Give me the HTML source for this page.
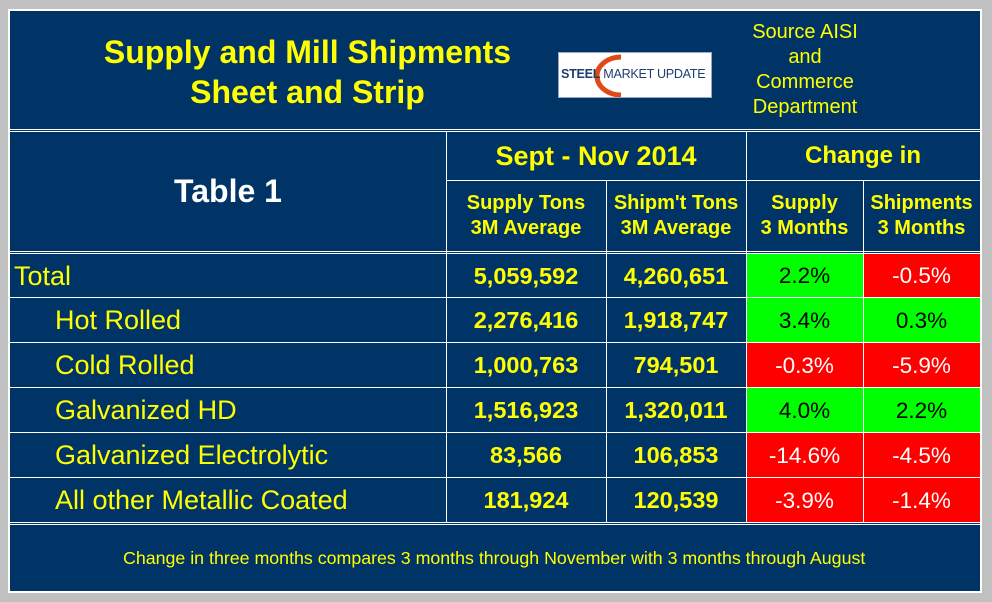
<!DOCTYPE html>
<html><head><meta charset="utf-8"><style>
body{margin:0;width:992px;height:602px;background:#c0c0c0;position:relative;overflow:hidden;font-family:"Liberation Sans",Arial,sans-serif}
.abs{position:absolute}
.nav{background:#003366}
.hl{position:absolute;height:1px;background:#fff}
.vl{position:absolute;width:1px;background:#fff}
.c{position:absolute;display:flex;align-items:center;justify-content:center;text-align:center}
.y{color:#ffff00}
.b{font-weight:bold}
</style></head><body>
<div class="abs" style="left:8px;top:9px;width:974px;height:584px;border:1px solid #fff;box-sizing:border-box"></div>
<div class="abs nav" style="left:10px;top:11px;width:970px;height:580px;outline:1px solid #fff"></div>
<div class="c y b" style="left:40px;top:28px;width:535px;height:88px;font-size:32px;line-height:40px;white-space:nowrap">Supply and Mill Shipments<br>Sheet and Strip</div>
<div class="abs" style="left:558px;top:52px;width:152px;height:44px;background:#fff;border:1px solid #9ab">
<svg width="152" height="44" style="position:absolute;left:0;top:0"><path d="M62 4 A24 19 0 1 0 62 42" stroke="#e04a1a" stroke-width="5" fill="none"/></svg>
<div class="abs" style="left:2px;top:14px;font-size:12.6px;white-space:nowrap;color:#1f3f70;letter-spacing:-0.3px"><b>STEEL</b> MARKET <span style="font-weight:normal">UPDATE</span></div></div>
<div class="c y" style="left:715px;top:20px;width:180px;height:100px;font-size:20px;line-height:25px">Source AISI<br>and<br>Commerce<br>Department</div>
<div class="hl" style="left:10px;top:129px;width:970px"></div>
<div class="hl" style="left:10px;top:131px;width:970px"></div>
<div class="c b" style="left:10px;top:132px;width:436px;height:119px;font-size:32px;color:#fff">Table 1</div>
<div class="c y b" style="left:446px;top:132px;width:300px;height:48px;font-size:27px">Sept - Nov 2014</div>
<div class="c y b" style="left:746px;top:132px;width:234px;height:48px;font-size:24px">Change in</div>
<div class="hl" style="left:446px;top:180px;width:534px"></div>
<div class="c y b" style="left:446px;top:181px;width:160px;height:70px;font-size:20px;line-height:25px;white-space:nowrap">Supply Tons<br>3M Average</div>
<div class="c y b" style="left:606px;top:181px;width:140px;height:70px;font-size:20px;line-height:25px;white-space:nowrap">Shipm't Tons<br>3M Average</div>
<div class="c y b" style="left:746px;top:181px;width:117px;height:70px;font-size:20px;line-height:25px;white-space:nowrap">Supply<br>3 Months</div>
<div class="c y b" style="left:863px;top:181px;width:117px;height:70px;font-size:20px;line-height:25px;white-space:nowrap">Shipments<br>3 Months</div>
<div id="rows"></div>
<div class="c y" style="left:10px;top:525px;width:990px;height:66px;font-size:17.8px;justify-content:flex-start;padding-left:113px;box-sizing:border-box;white-space:nowrap">Change in three months compares 3 months through November with 3 months through August</div>
<script>
const labels=["Total","Hot Rolled","Cold Rolled","Galvanized HD","Galvanized Electrolytic","All other Metallic Coated"];
const supplyTons=["5,059,592","2,276,416","1,000,763","1,516,923","83,566","181,924"];
const shipTons=["4,260,651","1,918,747","794,501","1,320,011","106,853","120,539"];
const supplyChg=[2.2,3.4,-0.3,4.0,-14.6,-3.9];
const shipChg=[-0.5,0.3,-5.9,2.2,-4.5,-1.4];
const R=document.getElementById('rows');
function add(html){const d=document.createElement('div');d.innerHTML=html;const e=d.firstChild;R.appendChild(e);return e;}
add('<div class="hl" style="left:10px;top:251px;width:970px"></div>');
add('<div class="hl" style="left:10px;top:253px;width:970px"></div>');
const top0=254,rh=45;
labels.forEach((l,i)=>{
  const t=top0+i*rh-(i?1:0), h=(i?rh:rh-1);
  const lab=add(`<div class="c y" style="left:${i?55:14}px;top:${t}px;height:${h}px;font-size:27px;justify-content:flex-start;white-space:nowrap">${l}</div>`);
  
  
  const s=add(`<div class="c y b" style="left:446px;top:${t}px;width:160px;height:${h}px;font-size:23.5px">${supplyTons[i]}</div>`);
  
  
  const p=add(`<div class="c y b" style="left:606px;top:${t}px;width:140px;height:${h}px;font-size:23.5px">${shipTons[i]}</div>`);
  
  
  [[supplyChg[i],746],[shipChg[i],863]].forEach(([v,x])=>{
    const neg=v<0;
    const c=add(`<div class="c" style="left:${x}px;top:${t}px;width:117px;height:${h}px;font-size:22.5px;background:${neg?'#ff0000':'#00ff00'};color:${neg?'#fff':'#000'}">${v.toFixed(1)}%</div>`);
    
    
  });
  if(i>0)add(`<div class="hl" style="left:10px;top:${t-1}px;width:970px"></div>`);
});
add('<div class="hl" style="left:10px;top:522px;width:970px"></div>');
add('<div class="hl" style="left:10px;top:524px;width:970px"></div>');
[[446,131,522],[606,180,522],[746,131,522],[863,180,522]].forEach(([x,a,b])=>add(`<div class="vl" style="left:${x}px;top:${a}px;height:${b-a}px"></div>`));
</script>
</body></html>
